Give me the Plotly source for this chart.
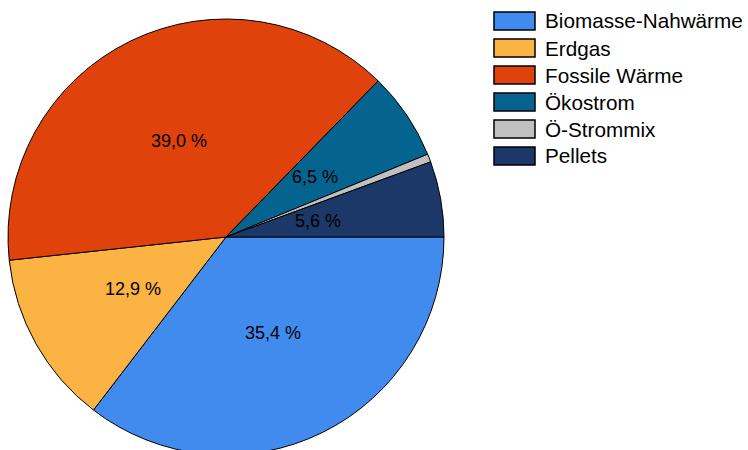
import math
import plotly.graph_objects as go

# Shares of heating energy sources (percent)
categories = ["Biomasse-Nahwärme", "Erdgas", "Fossile Wärme", "Ökostrom", "Ö-Strommix", "Pellets"]
shares = [35.4, 12.9, 39.0, 6.5, 0.6, 5.6]
value_labels = ["35,4 %", "12,9 %", "39,0 %", "6,5 %", "", "5,6 %"]
colors = ["#418BEF", "#FBB444", "#E0420B", "#05638F", "#C0C0C0", "#1B3868"]

W, H = 748, 456
cx, cy, R = 226, 237, 218          # pie centre and radius in pixels
FONT = "Liberation Sans, Arial, sans-serif"


def px_x(x):
    return x / W


def px_y(y):
    return 1 - y / H


fig = go.Figure()
fig.add_trace(go.Pie(
    labels=categories,
    values=shares,
    sort=False,
    direction="clockwise",
    rotation=90,
    marker=dict(colors=colors, line=dict(color="#000000", width=1)),
    textinfo="none",
    hoverinfo="label+percent",
    showlegend=False,
    domain=dict(x=[px_x(cx - R), px_x(cx + R)], y=[px_y(cy + R), px_y(cy - R)]),
))

annotations = []
shapes = []

# value labels placed inside each slice along its mid angle
total = sum(shares)
start = 0.0
for v, lab in zip(shares, value_labels):
    frac = v / total
    mid = (start + v / 2) / total * 2 * math.pi
    start += v
    if not lab:
        continue
    r = (0.49 if frac > 0.06 else 0.43) * R
    x = cx + r * math.cos(mid)
    y = cy + r * math.sin(mid)
    annotations.append(dict(
        x=px_x(x), y=px_y(y), xref="paper", yref="paper",
        text=lab, showarrow=False, xanchor="center", yanchor="middle",
        font=dict(family=FONT, size=18, color="#000000"),
    ))

# legend: coloured boxes with category names
for i, (name, col) in enumerate(zip(categories, colors)):
    yc = 21 + 27 * i
    shapes.append(dict(
        type="rect", xref="paper", yref="paper",
        x0=px_x(494), x1=px_x(535), y0=px_y(yc - 9), y1=px_y(yc + 9),
        fillcolor=col, line=dict(color="#000000", width=1.5),
    ))
    annotations.append(dict(
        x=px_x(543), y=px_y(yc), xref="paper", yref="paper",
        text=name, showarrow=False, xanchor="left", yanchor="middle",
        font=dict(family=FONT, size=20.7, color="#000000"),
    ))

fig.update_layout(
    width=W, height=H,
    margin=dict(l=0, r=0, t=0, b=0),
    paper_bgcolor="#FFFFFF",
    plot_bgcolor="#FFFFFF",
    annotations=annotations,
    shapes=shapes,
)

fig.write_html("out.html")
